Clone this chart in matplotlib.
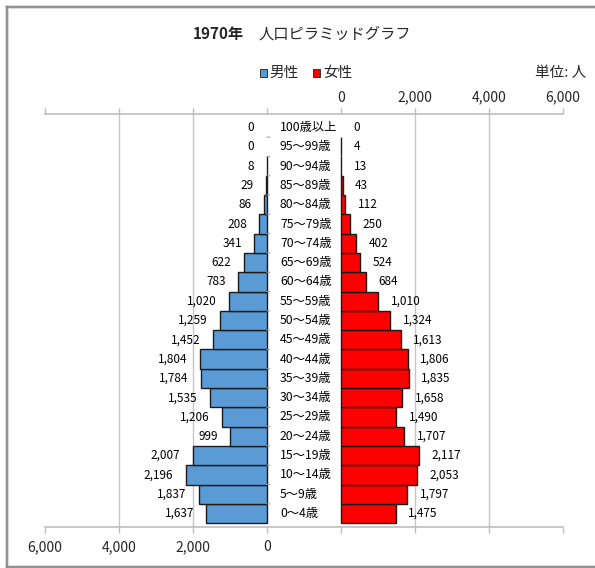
import matplotlib
matplotlib.use("Agg")
import matplotlib.pyplot as plt
from matplotlib.patches import Rectangle
from matplotlib.lines import Line2D

plt.rcParams['font.family'] = ['Noto Sans CJK JP', 'DejaVu Sans']

# ---- data ----
ages = ["0～4歳", "5～9歳", "10～14歳", "15～19歳", "20～24歳", "25～29歳",
        "30～34歳", "35～39歳", "40～44歳", "45～49歳", "50～54歳", "55～59歳",
        "60～64歳", "65～69歳", "70～74歳", "75～79歳", "80～84歳", "85～89歳",
        "90～94歳", "95～99歳", "100歳以上"]
male = [1637, 1837, 2196, 2007, 999, 1206, 1535, 1784, 1804, 1452, 1259,
        1020, 783, 622, 341, 208, 86, 29, 8, 0, 0]
female = [1475, 1797, 2053, 2117, 1707, 1490, 1658, 1835, 1806, 1613, 1324,
          1010, 684, 524, 402, 250, 112, 43, 13, 4, 0]
axis_ticks = [0, 2000, 4000, 6000]
title_year = "1970年"
title_rest = "人口ピラミッドグラフ"
legend_labels = ["男性", "女性"]
unit_label = "単位: 人"

W, H = 595, 568
GAP = 1000  # half-width of the central label gap, in data units

fig = plt.figure(figsize=(W / 100, H / 100), dpi=100)
fig.patch.set_facecolor('white')

def fx(px):
    return px / W

def fy(py):
    return 1 - py / H

ax_l, ax_r, ax_t, ax_b = 45, 563, 114, 527
ax = fig.add_axes([fx(ax_l), fy(ax_b), fx(ax_r) - fx(ax_l), fy(ax_t) - fy(ax_b)])

male_col = '#5B9BD5'
female_col = '#FF0000'
ypos = list(range(len(ages)))

# gridlines
for t in axis_ticks[1:3]:
    ax.axvline(-GAP - t, color='#c6c6c6', lw=1.0, zorder=0)
    ax.axvline(GAP + t, color='#c6c6c6', lw=1.0, zorder=0)

male_edges = ['#1a1a1a' if v > 0 else 'none' for v in male]
female_edges = ['#1a1a1a' if v > 0 else 'none' for v in female]
ax.barh(ypos, [-v for v in male], left=-GAP, height=1.0, color=male_col,
        edgecolor=male_edges, linewidth=1.0, zorder=2)
ax.barh(ypos, female, left=GAP, height=1.0, color=female_col,
        edgecolor=female_edges, linewidth=1.0, zorder=2)

# category boundary ticks on the male base line
for i in range(len(ages) - 1):
    ax.annotate('', xy=(-GAP, i + 0.5), xytext=(4, 0), textcoords='offset points',
                arrowprops=dict(arrowstyle='-', color='#a0a0a0', lw=0.8))

# data labels
for i, (m, f) in enumerate(zip(male, female)):
    ax.annotate(f"{m:,}", xy=(-GAP - m, i), xytext=(-9, 0), textcoords='offset points',
                ha='right', va='center', fontsize=8.5, color='black')
    ax.annotate(f"{f:,}", xy=(GAP + f, i), xytext=(9, 0), textcoords='offset points',
                ha='left', va='center', fontsize=8.5, color='black')
    ax.text(-650, i, ages[i], ha='left', va='center', fontsize=8.8, color='black')

ax.set_xlim(-GAP - 6000, GAP + 6000)
ax.set_ylim(-0.7, len(ages) - 0.3)

for s in ['left', 'right']:
    ax.spines[s].set_visible(False)
for s in ['top', 'bottom']:
    ax.spines[s].set_color('#bdbdbd')
    ax.spines[s].set_linewidth(1.2)

ax.set_yticks([])
all_ticks = [-GAP - t for t in axis_ticks] + [GAP + t for t in axis_ticks]
ax.set_xticks(all_ticks)
ax.set_xticklabels([f"{t:,}" for t in axis_ticks] + [''] * len(axis_ticks))
ax.tick_params(axis='x', which='both', bottom=True, top=True, direction='out',
               length=4, width=1.0, color='#bdbdbd', labelsize=10,
               labelcolor='#262626', pad=5.5)

sec = ax.secondary_xaxis('top')
sec.set_xticks(all_ticks)
sec.set_xticklabels([''] * len(axis_ticks) + [f"{t:,}" for t in axis_ticks])
sec.tick_params(length=0, labelsize=10, labelcolor='#262626', pad=6.8)
sec.spines['top'].set_visible(False)

# title
fig.text(fx(244), fy(34), title_year, ha='right', va='center', fontsize=11,
         fontweight='bold', color='#262626')
fig.text(fx(259), fy(34), title_rest, ha='left', va='center', fontsize=11,
         color='#262626')

# legend (manual)
sq = 7
for (x0, col, lab, tx) in [(260, male_col, legend_labels[0], 269),
                           (313, female_col, legend_labels[1], 323)]:
    fig.patches.append(Rectangle((fx(x0), fy(73 + sq / 2)), sq / W, sq / H,
                                 transform=fig.transFigure, facecolor=col,
                                 edgecolor='#303030', linewidth=0.7))
    fig.text(fx(tx), fy(73), lab, ha='left', va='center', fontsize=10.5,
             color='#262626')
fig.text(fx(586), fy(73), unit_label, ha='right', va='center', fontsize=10.5,
         color='#262626')

# outer frame
for lw, col in [(3.5, '#d0d0d0'), (1.6, '#858585')]:
    fig.lines.append(Line2D([fx(6.5), fx(6.5)], [fy(6.5), fy(566.5)],
                            transform=fig.transFigure, color=col, lw=lw * 0.72))
    fig.lines.append(Line2D([fx(6.5), fx(600)], [fy(6.5), fy(6.5)],
                            transform=fig.transFigure, color=col, lw=lw * 0.72))
    fig.lines.append(Line2D([fx(6.5), fx(600)], [fy(566.5), fy(566.5)],
                            transform=fig.transFigure, color=col, lw=lw * 0.72))

fig.savefig('out.png', dpi=100, facecolor='white')
